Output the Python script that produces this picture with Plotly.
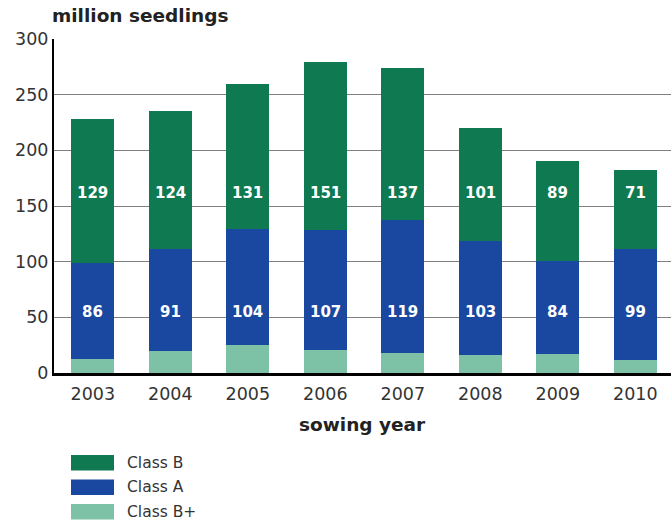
import plotly.graph_objects as go

years = ["2003", "2004", "2005", "2006", "2007", "2008", "2009", "2010"]
class_b_plus = [13, 20, 25, 21, 18, 16, 17, 12]
class_a = [86, 91, 104, 107, 119, 103, 84, 99]
class_b = [129, 124, 131, 151, 137, 101, 89, 71]

series = [
    ("Class B+", class_b_plus, "#7dc1a6"),
    ("Class A", class_a, "#1a48a0"),
    ("Class B", class_b, "#0f7a51"),
]

FONT = "DejaVu Sans"
fig = go.Figure()
for name, vals, color in series:
    fig.add_trace(go.Bar(
        x=years, y=vals, name=name, marker=dict(color=color, line=dict(width=0)),
        width=0.555, showlegend=False, hoverinfo="x+y+name",
    ))

# value labels for Class A and Class B sit at a common height
for i, yr in enumerate(years):
    for val, ypos in ((class_a[i], 55), (class_b[i], 162)):
        fig.add_annotation(x=i, y=ypos, xref="x", yref="y", text=f"<b>{val}</b>",
                           showarrow=False,
                           font=dict(family=FONT, size=15, color="white"))

# legend drawn as swatches below the chart
legend_items = [("Class B", "#0f7a51"), ("Class A", "#1a48a0"), ("Class B+", "#7dc1a6")]
for k, (name, color) in enumerate(legend_items):
    top = 455 + k * 24.5
    fig.add_shape(type="rect", xref="paper", yref="paper",
                  x0=(71 - 54) / 617, x1=(114 - 54) / 617,
                  y0=(373 - top - 15.5) / 334, y1=(373 - top) / 334,
                  fillcolor=color, line=dict(width=0))
    fig.add_annotation(xref="paper", yref="paper", x=(125 - 54) / 617,
                       y=(373 - top - 8) / 334, text=name, showarrow=False,
                       xanchor="left", yanchor="middle",
                       font=dict(family=FONT, size=15.5, color="#333333"))

fig.add_annotation(xref="paper", yref="paper", x=(50 - 54) / 617, y=(373 - 15) / 334,
                   text="<b>million seedlings</b>", showarrow=False,
                   xanchor="left", yanchor="middle",
                   font=dict(family=FONT, size=18.5, color="#222222"))
fig.add_annotation(xref="paper", yref="paper", x=(362 - 54) / 617, y=(373 - 424) / 334,
                   text="<b>sowing year</b>", showarrow=False,
                   xanchor="center", yanchor="middle",
                   font=dict(family=FONT, size=18.5, color="#222222"))

fig.update_layout(
    width=671, height=521, barmode="stack",
    margin=dict(l=54, r=0, t=39, b=148),
    plot_bgcolor="white", paper_bgcolor="white",
    font=dict(family=FONT, size=17.5, color="#333333"),
    xaxis=dict(type="category", range=[-0.5, 7.46], showgrid=False, showline=True,
               linecolor="black", linewidth=3, ticks="", ticklabelstandoff=3,
               tickfont=dict(size=17.5, color="#333333")),
    yaxis=dict(range=[0, 300], dtick=50, showgrid=True, gridcolor="#808080", gridwidth=1,
               showline=True, linecolor="black", linewidth=2, ticks="",
               zeroline=False, tickfont=dict(size=17.5, color="#333333")),
)

fig.write_html("out.html")
